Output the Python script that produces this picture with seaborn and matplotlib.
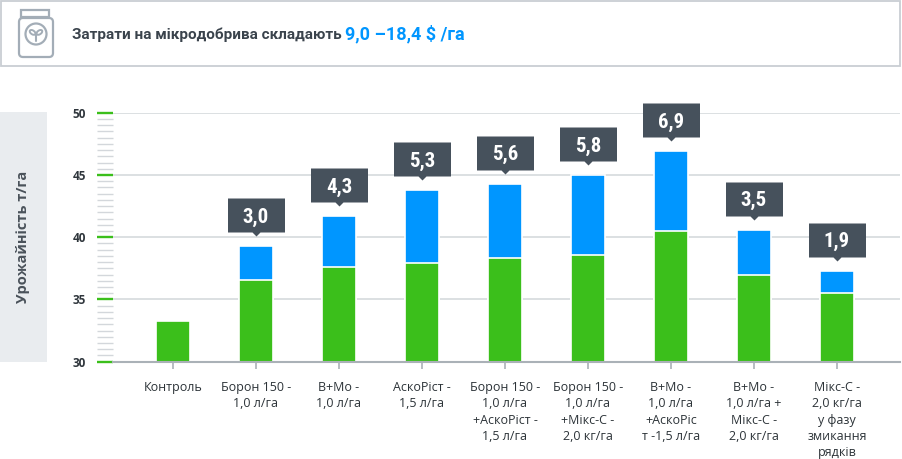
import matplotlib
matplotlib.use("Agg")
import matplotlib.pyplot as plt
import numpy as np
import pandas as pd
import seaborn as sns
from matplotlib import font_manager
from matplotlib.patches import Rectangle, FancyBboxPatch, Circle, Ellipse
from matplotlib.ticker import MultipleLocator
from matplotlib.transforms import offset_copy

# --- data ---
treatments = [
    "Контроль",
    "Борон 150 -\n1,0 л/га",
    "B+Mo -\n1,0 л/га",
    "АскоРіст -\n1,5 л/га",
    "Борон 150 -\n1,0 л/га\n+АскоРіст -\n1,5 л/га",
    "Борон 150 -\n1,0 л/га\n+Мікс-С -\n2,0 кг/га",
    "B+Mo -\n1,0 л/га\n+АскоРіс\nт -1,5 л/га",
    "B+Mo -\n1,0 л/га +\nМікс-С -\n2,0 кг/га",
    "Мікс-С -\n2,0 кг/га\nу фазу\nзмикання\nрядків",
]
base_yield = [33.3, 36.6, 37.6, 37.9, 38.3, 38.6, 40.5, 37.0, 35.5]
total_yield = [33.3, 39.3, 41.7, 43.8, 44.3, 45.0, 46.9, 40.6, 37.3]
gain_labels = [None, "3,0", "4,3", "5,3", "5,6", "5,8", "6,9", "3,5", "1,9"]

title_main = "Затрати на мікродобрива складають "
title_value = "9,0 –18,4 $ /га"
y_title = "Урожайність т/га"

GREEN = "#3bbf1b"
BLUE = "#0096ff"
DARK = "#46515c"
TEXT = "#3a434c"
GRID = "#d6dadd"

W, H = 902, 459

installed = {f.name for f in font_manager.fontManager.ttflist}


def pick(*names):
    for n in names:
        if n in installed:
            return n
    return "DejaVu Sans"


narrow = pick("Roboto Condensed", "Open Sans Condensed", "Liberation Sans Narrow", "Roboto")

sns.set_theme(style="white")
plt.rcParams["font.family"] = ["Open Sans", "DejaVu Sans"]


def fx(x):
    return x / W


def fy(y):
    return 1 - y / H


fig = plt.figure(figsize=(W / 100, H / 100), dpi=100)

# header box
fig.add_artist(Rectangle((fx(1), fy(66)), fx(899), 65 / H, transform=fig.transFigure,
                         fill=False, edgecolor="#c9ced3", linewidth=1.3))

# jar icon, drawn in pixel units
icon = fig.add_axes([fx(14), fy(62), fx(44), 56 / H])
icon.set_xlim(14, 58)
icon.set_ylim(62, 6)
icon.axis("off")
ic = "#a3adb7"
icon.add_patch(Rectangle((21, 10), 28, 7, fill=False, edgecolor=ic, lw=1.6))
icon.add_patch(FancyBboxPatch((19, 18), 34, 39, boxstyle="round,pad=0,rounding_size=4",
                              fill=False, edgecolor=ic, lw=1.6))
icon.add_patch(Circle((36, 34), 10.5, fill=False, edgecolor=ic, lw=1.6))
icon.plot([36, 36], [34.5, 40.5], color=ic, lw=1.5)
icon.add_patch(Ellipse((32.6, 32.4), 6.4, 3.8, angle=35, fill=False, edgecolor=ic, lw=1.4))
icon.add_patch(Ellipse((39.4, 32.4), 6.4, 3.8, angle=-35, fill=False, edgecolor=ic, lw=1.4))

# title in two colours
title_font = [pick("Roboto"), "DejaVu Sans"]
t1 = fig.text(fx(72), fy(39), title_main, fontsize=11, fontweight="bold", color=TEXT,
              ha="left", va="baseline", family=title_font)
renderer = fig.canvas.get_renderer()
bb = t1.get_window_extent(renderer=renderer)
fig.text(bb.x1 / W, fy(39), title_value, fontsize=13, fontweight="bold", color=BLUE,
         ha="left", va="baseline", family=title_font)

# grey box behind the y title
fig.add_artist(Rectangle((0, fy(362)), fx(47), 250 / H, transform=fig.transFigure,
                         facecolor="#e9ecef", edgecolor="none"))
fig.text(fx(23), fy(237), y_title, rotation=90, ha="center", va="center",
         fontsize=10.5, fontweight="bold", color="#4a525a")

ax = fig.add_axes([fx(113), fy(361.7), fx(900 - 113), (361.7 - 112.7) / H])

df = pd.DataFrame({"treatment": treatments, "base": base_yield, "total": total_yield})
sns.barplot(data=df, x="treatment", y="total", color=BLUE, saturation=1, width=0.41,
            edgecolor="white", linewidth=1.2, ax=ax)
sns.barplot(data=df, x="treatment", y="base", color=GREEN, saturation=1, width=0.41,
            edgecolor="white", linewidth=1.2, ax=ax)

ax.set_ylim(30, 50)
ax.set_xlim(-0.723, 8.76)
ax.set_xlabel("")
ax.set_ylabel("")
ax.yaxis.set_major_locator(MultipleLocator(5))
ax.yaxis.set_minor_locator(MultipleLocator(0.5))
ax.yaxis.grid(True, which="major", color=GRID, linewidth=1.2)
ax.xaxis.grid(False)
ax.set_axisbelow(True)
for side in ["left", "right", "top"]:
    ax.spines[side].set_visible(False)
ax.spines["bottom"].set_color("#aab1b7")
ax.spines["bottom"].set_linewidth(1.5)

ax.tick_params(axis="y", which="major", left=True, direction="out", length=11.5, width=1.7,
               color=GREEN, pad=8, labelsize=8.5, labelcolor="#2f363c")
ax.tick_params(axis="y", which="minor", left=True, direction="out", length=11.5, width=1.0,
               color="#d3d7db")
for lab in ax.get_yticklabels():
    lab.set_fontweight("bold")
ax.tick_params(axis="x", which="major", bottom=True, direction="out", length=5, width=1.2,
               color="#aab1b7", pad=9)
ax.set_xticks(range(len(treatments)))
ax.set_xticklabels(treatments, fontsize=9, color="#2c3338", linespacing=1.33, va="top")

# callout boxes: rectangle with a small pointer, tip 10 px above the bar
px = 0.72  # points per pixel
callout = np.array([[0, 0], [4, 4], [28.5, 4], [28.5, 38], [-28.5, 38], [-28.5, 4], [-4, 4], [0, 0]])
box_tr = offset_copy(ax.transData, fig=fig, y=10 * px, units="points")
for i, (top, lab) in enumerate(zip(total_yield, gain_labels)):
    if lab is None:
        continue
    ax.plot([i], [top], marker=callout, markersize=2 * 38 * px, color=DARK,
            markeredgewidth=0, transform=box_tr, clip_on=False, zorder=5)
    ax.annotate(lab, xy=(i, top), xytext=(0, (10 + 4 + 17) * px), textcoords="offset points",
                ha="center", va="center_baseline", color="white", fontsize=15,
                fontweight="bold", family=[narrow, "DejaVu Sans"], zorder=6,
                annotation_clip=False)

fig.savefig("out.png", dpi=100)
